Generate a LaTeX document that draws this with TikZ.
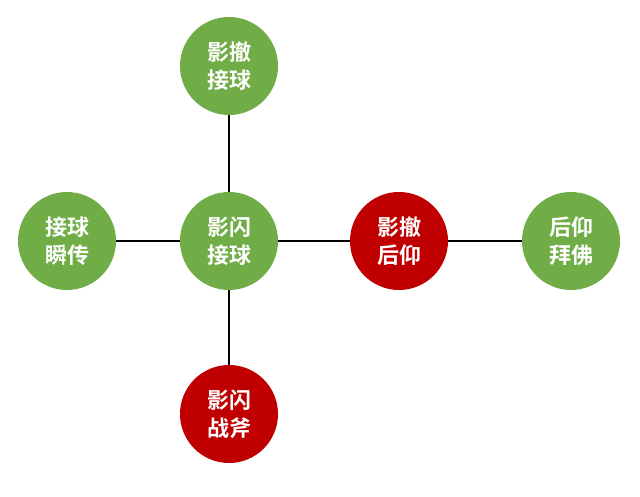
\documentclass[tikz,border=0pt]{standalone}
\usepackage{fontspec}
\newfontfamily\cjk{Noto Sans CJK SC Bold}
\definecolor{ngreen}{HTML}{70AD47}
\definecolor{nred}{HTML}{C00000}
\begin{document}
\begin{tikzpicture}[x=1pt,y=-1pt,
  ball/.style={circle,minimum size=98pt,inner sep=0pt,text=white,
    font=\cjk\fontsize{22}{28}\selectfont,align=center},
  gball/.style={ball,fill=ngreen},
  rball/.style={ball,fill=nred},
  link/.style={draw=black,line width=1.3pt}]
\useasboundingbox[fill=white] (0,0) rectangle (640,497);
\node[gball] (c) at (229,241) {影闪\\接球};
\node[gball] (t) at (229,66) {影撤\\接球};
\node[gball] (l) at (67,241) {接球\\瞬传};
\node[rball] (r) at (399,241) {影撤\\后仰};
\node[gball] (rr) at (571,241) {后仰\\拜佛};
\node[rball] (b) at (229,414) {影闪\\战斧};
\draw[link] (c) -- (t);
\draw[link] (c) -- (l);
\draw[link] (c) -- (r);
\draw[link] (r) -- (rr);
\draw[link] (c) -- (b);
\end{tikzpicture}
\end{document}
